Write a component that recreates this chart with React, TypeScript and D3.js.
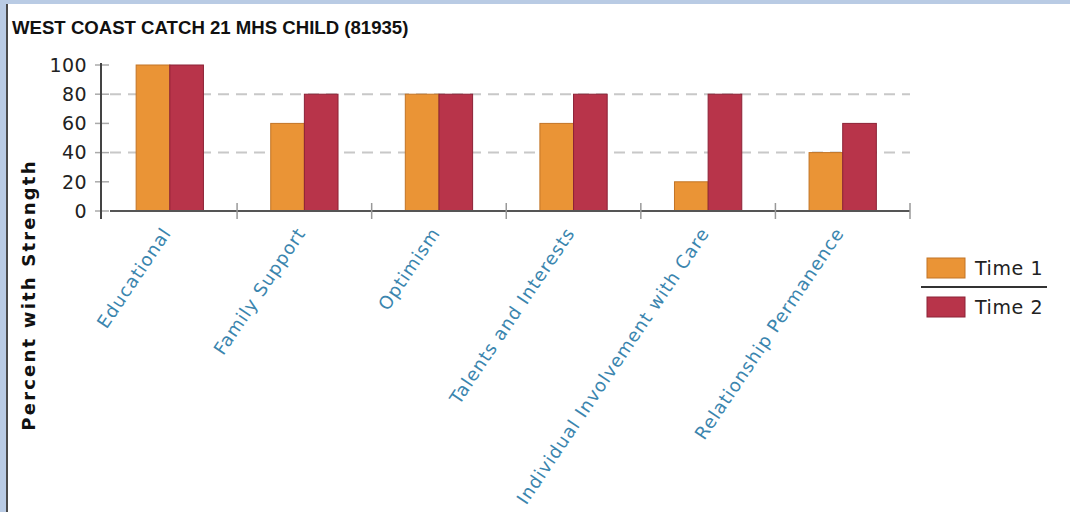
import React from "react";
import * as d3 from "d3";

const categories = [
  "Educational",
  "Family Support",
  "Optimism",
  "Talents and Interests",
  "Individual Involvement with Care",
  "Relationship Permanence",
];
const seriesNames = ["Time 1", "Time 2"];
const time1 = [100, 60, 80, 60, 20, 40];
const time2 = [100, 80, 80, 80, 80, 60];
const yTicks = [0, 20, 40, 60, 80, 100];
const gridValues = [40, 80];
const colors = ["#ea9436", "#b8344a"];
const strokes = ["#c27426", "#8c2236"];

export default function App() {
  const W = 1070;
  const H = 512;
  const y = d3.scaleLinear().domain([0, 100]).range([211, 65]);
  const x0 = d3.scaleBand<string>().domain(categories).range([102.5, 910]).padding(0);
  const x1 = d3
    .scaleBand<string>()
    .domain(seriesNames)
    .range([x0.bandwidth() * 0.25, x0.bandwidth() * 0.75])
    .padding(0);
  const series = [time1, time2];
  const edges = categories.map((c) => (x0(c) as number) + x0.bandwidth());

  return (
    <svg
      width={W}
      height={H}
      style={{ position: "absolute", left: 0, top: 0, display: "block", background: "#fff" }}
    >
      <rect x={0} y={0} width={W} height={4} fill="#b9cbe4" />
      <rect x={0} y={0} width={6} height={H} fill="#b9cbe4" />
      <rect x={6} y={4} width={2} height={H - 4} fill="#4a4a4a" />

      <text
        x={12}
        y={34}
        fontFamily="Liberation Sans, Arial, sans-serif"
        fontWeight="bold"
        fontSize={18.6}
        fill="#111"
      >
        WEST COAST CATCH 21 MHS CHILD (81935)
      </text>

      {/* gridlines */}
      {gridValues.map((v) => (
        <line
          key={"g" + v}
          x1={110}
          x2={910}
          y1={y(v)}
          y2={y(v)}
          stroke="#c8c8c8"
          strokeWidth={2}
          strokeDasharray="11,7"
        />
      ))}

      {/* y ticks */}
      {yTicks.map((v) => (
        <g key={"t" + v}>
          <line x1={95} x2={109} y1={y(v)} y2={y(v)} stroke="#aaa" strokeWidth={1.5} />
          <text
            x={87}
            y={y(v)}
            dy="0.36em"
            textAnchor="end"
            fontFamily="DejaVu Sans, sans-serif"
            fontSize={19}
            letterSpacing={0.4}
            fill="#222"
          >
            {v}
          </text>
        </g>
      ))}
      <line x1={101} x2={101} y1={63} y2={219} stroke="#444" strokeWidth={2} />

      {/* bars */}
      {categories.map((c, i) => (
        <g key={c} transform={`translate(${x0(c)},0)`}>
          {series.map((s, j) => (
            <rect
              key={j}
              x={x1(seriesNames[j])}
              y={y(s[i])}
              width={x1.bandwidth()}
              height={y(0) - y(s[i])}
              fill={colors[j]}
              stroke={strokes[j]}
              strokeWidth={1}
            />
          ))}
        </g>
      ))}

      {/* x axis */}
      <line x1={110} x2={910} y1={211} y2={211} stroke="#555" strokeWidth={2} />
      {edges.map((e, i) => (
        <line key={"e" + i} x1={e} x2={e} y1={203} y2={219} stroke="#999" strokeWidth={1.5} />
      ))}

      {/* x labels */}
      {categories.map((c) => {
        const cx = (x0(c) as number) + x0.bandwidth() / 2 + 2;
        const cy = 233;
        return (
          <text
            key={"l" + c}
            transform={`translate(${cx},${cy}) rotate(-56)`}
            textAnchor="end"
            fontFamily="DejaVu Sans, sans-serif"
            fontSize={18}
            letterSpacing={1}
            fill="#3a85ae"
          >
            {c}
          </text>
        );
      })}

      {/* y title */}
      <text
        transform={`translate(35,295) rotate(-90)`}
        textAnchor="middle"
        fontFamily="DejaVu Sans, sans-serif"
        fontWeight="bold"
        fontSize={18}
        letterSpacing={2.2}
        fill="#111"
      >
        Percent with Strength
      </text>

      {/* legend */}
      {seriesNames.map((n, j) => (
        <g key={n} transform={`translate(927,${258 + j * 39})`}>
          <rect x={0} y={0} width={38} height={20} fill={colors[j]} stroke={strokes[j]} strokeWidth={1} />
          <text
            x={48}
            y={17}
            fontFamily="DejaVu Sans, sans-serif"
            fontSize={19}
            letterSpacing={0.6}
            fill="#222"
          >
            {n}
          </text>
        </g>
      ))}
      <line x1={921} x2={1047} y1={287} y2={287} stroke="#333" strokeWidth={2} />
    </svg>
  );
}
